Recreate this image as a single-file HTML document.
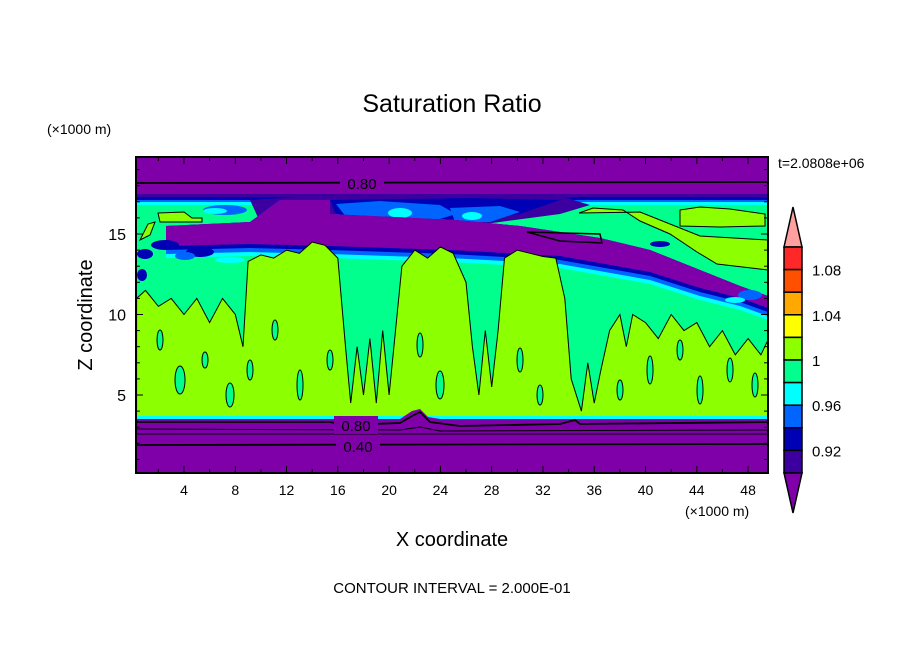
<!DOCTYPE html>
<html><head><meta charset="utf-8"><style>
body{margin:0;background:#fff;width:904px;height:654px;overflow:hidden;font-family:"Liberation Sans",sans-serif}
svg text{font-family:"Liberation Sans",sans-serif;fill:#000}
</style></head><body>
<svg id="chart" width="904" height="654" viewBox="0 0 904 654">
<defs><clipPath id="pc"><rect x="136" y="157" width="632" height="316"/></clipPath></defs>
<text x="452" y="112" font-size="25" text-anchor="middle">Saturation Ratio</text>
<text x="47" y="134" font-size="14">(×1000 m)</text>
<text x="778" y="168" font-size="14">t=2.0808e+06</text>
<text x="92" y="315" font-size="20" text-anchor="middle" transform="rotate(-90 92 315)">Z coordinate</text>
<text x="452" y="546" font-size="20" text-anchor="middle">X coordinate</text>
<text x="685" y="516" font-size="14">(×1000 m)</text>
<text x="452" y="593" font-size="15" text-anchor="middle">CONTOUR INTERVAL = 2.000E-01</text>
<g id="plot" clip-path="url(#pc)"></g>
<g id="axes"></g>
<g id="cbar"></g>
</svg>
<script>
const xTicks=[4,8,12,16,20,24,28,32,36,40,44,48];
const yTicks=[5,10,15];
const limeX=[0.3,1,2,3,4,5,6,7,8,8.6,9,10,11,12,13,14,15,16,16.6,17,17.5,18,18.5,19,19.5,20,20.5,21,22,23,24,25,26,26.5,27,27.5,28,28.5,29,30,31,32,33,33.7,34.2,35,35.5,36,36.5,37.2,38,38.5,39,40,41,42,43,44,45,46,47,48,49,49.6];
const limeTop=[11,11.5,10.5,11,10,11,9.5,11,10,8,13.3,13.7,13.5,14,13.8,14.5,14.3,13.5,8,4.5,8,5,8.5,4.5,9,5,9,13,14,13.5,14.2,13.8,12,8,5,9,5.5,9,13.5,14,13.8,13.6,13.5,11,6,4,7,4.5,6.5,9,10,8,10,9.5,8.5,10,9,9.5,8,9,7.5,8.5,7.5,8.5];
const cbLevels=["","1.08","","1.04","","1","","0.96","","0.92"];
const cbColors=["#ff2828","#ff5000","#ffa800","#ffff00","#8cff00","#00ff8c","#00ffff","#0064ff","#0000b4","#3c00a0"];
const NS="http://www.w3.org/2000/svg";
const X=v=>184+(v-4)*12.82, Y=v=>395-(v-5)*16.1;
function mk(p,t,a){const el=document.createElementNS(NS,t);for(const k in a)el.setAttribute(k,a[k]);p.appendChild(el);return el;}
const plot=document.getElementById('plot'),axes=document.getElementById('axes'),cb=document.getElementById('cbar');
const P="#7f00a8",IND="#3c00a0",DB="#0000b4",BL="#0064ff",CY="#00ffff",GR="#00ff8c",LI="#8cff00";
let e;
e=mk(plot,'rect',{x:136,y:157,width:632,height:316,fill:P});


[[IND,"136,194 768,194 768,215 136,215"],[DB,"136,197 768,197 768,212 136,212"],[BL,"136,200 768,200 768,210 136,210"],[CY,"136,202 768,202 768,208 136,208"]].forEach(a=>{e=mk(plot,'polygon',{points:a[1],fill:a[0]});

});
e=mk(plot,'rect',{x:136,y:205,width:632,height:215,fill:GR});


[[IND,"250,200 320,196 560,196 590,205 560,214 470,226 330,228 260,222"],[DB,"330,200 470,198 560,200 520,214 450,224 340,224"],[BL,"336,204 380,201 440,205 456,214 430,222 350,222"],[BL,"450,208 500,206 520,212 490,222 455,222"]].forEach(a=>{e=mk(plot,'polygon',{points:a[1],fill:a[0]});

});
[[CY,400,213,12,5],[CY,472,216,10,4],[BL,225,210,22,5],[CY,215,211,12,3]].forEach(a=>{e=mk(plot,'ellipse',{cx:a[1],cy:a[2],rx:a[3],ry:a[4],fill:a[0]});

});
const up="166,226 250,222 280,200 330,200 330,214 456,220 520,226 600,238 650,250 700,270 740,286 768,296";
const lo=(d)=>`768,${308+d} 740,${298+d} 700,${288+d} 650,${272+d} 560,${256+d} 450,${250+d} 330,${246+d} 250,${244+d} 166,${246+d}`;
[[CY,12],[BL,8],[DB,4],[P,0]].forEach(a=>{const pp=up+" "+lo(a[1]);e=mk(plot,'polygon',{points:pp,fill:a[0]});

});
mk(plot,'polygon',{points:"527,232 600,234 602,243 560,241",fill:"none",stroke:"#000","stroke-width":1.5});
[[DB,165,245,14,5],[DB,200,252,14,5],[BL,185,256,10,4],[DB,145,254,8,5],[DB,142,275,5,6],[CY,230,260,15,3],[DB,660,244,10,3],[BL,730,246,25,4],[DB,745,247,12,2],[BL,750,295,12,5],[CY,735,300,10,3]].forEach(a=>{e=mk(plot,'ellipse',{cx:a[1],cy:a[2],rx:a[3],ry:a[4],fill:a[0]});

});
["158,213 184,212 192,218 202,218 202,222 160,222","579,213 593,208 623,210 640,221 670,234 697,252 717,264 768,270 768,240 700,236 665,222 640,212","680,210 700,207 730,209 765,214 765,226 720,227 680,226","140,240 148,224 155,222 150,235"].forEach(p=>{e=mk(plot,'polygon',{points:p,fill:LI,stroke:"#000","stroke-width":1});

});
let pts=[X(limeX[0])+","+Y(3.6)];
for(let i=0;i<limeX.length;i++)pts.push(X(limeX[i]).toFixed(1)+","+Y(limeTop[i]).toFixed(1));
pts.push(X(limeX[limeX.length-1])+","+Y(3.6));
e=mk(plot,'polygon',{points:pts.join(' '),fill:LI,stroke:"#000","stroke-width":1});


[[180,380,5,14],[205,360,3,8],[230,395,4,12],[275,330,3,10],[300,385,3,15],[330,360,3,10],[420,345,3,12],[440,385,4,14],[520,360,3,12],[540,395,3,10],[650,370,3,14],[680,350,3,10],[700,390,3,14],[730,370,3,12],[755,385,3,12],[620,390,3,10],[160,340,3,10],[250,370,3,10]].forEach(a=>{e=mk(plot,'ellipse',{cx:a[0],cy:a[1],rx:a[2],ry:a[3],fill:GR,stroke:"#000","stroke-width":1});

});
e=mk(plot,'rect',{x:136,y:416,width:632,height:4,fill:CY});


e=mk(plot,'polygon',{points:"136,419 400,419 412,411 420,409 428,417 440,419 768,419 768,473 136,473",fill:P});


mk(plot,'polyline',{points:"136,422 330,422 345,425 400,423 412,416 420,412 430,422 460,426 560,424 575,420 580,424 768,422",fill:"none",stroke:"#000","stroke-width":1.8});
mk(plot,'polyline',{points:"136,429 400,430 420,427 440,431 768,430",fill:"none",stroke:"#000","stroke-width":1});
mk(plot,'line',{x1:136,y1:434,x2:768,y2:434,stroke:"#000","stroke-width":1});
mk(plot,'line',{x1:136,y1:445,x2:768,y2:444,stroke:"#000","stroke-width":1.8});
mk(plot,'line',{x1:136,y1:183,x2:768,y2:182,stroke:"#000","stroke-width":1.8});
[[362,183,"0.80"],[356,425,"0.80"],[358,446,"0.40"]].forEach(a=>{mk(plot,'rect',{x:a[0]-22,y:a[1]-9,width:44,height:18,fill:P});
e=mk(plot,'text',{x:a[0],y:a[1]+6,"font-size":15,"text-anchor":"middle"});e.textContent=a[2];

});
mk(axes,'rect',{x:136,y:157,width:632,height:316,fill:"none",stroke:"#000","stroke-width":2});
for(let v=2;v<=48;v+=2){const x=X(v),L=v%4==0?7:4;mk(axes,'line',{x1:x,y1:473,x2:x,y2:473-L,stroke:"#000"});mk(axes,'line',{x1:x,y1:157,x2:x,y2:157+L,stroke:"#000"});}
for(let v=1;v<=19;v++){const y=Y(v),L=v%5==0?7:4;mk(axes,'line',{x1:136,y1:y,x2:136+L,y2:y,stroke:"#000"});mk(axes,'line',{x1:768,y1:y,x2:768-L,y2:y,stroke:"#000"});}
xTicks.forEach(v=>{e=mk(axes,'text',{x:X(v),y:495,"font-size":14,"text-anchor":"middle"});e.textContent=v;

});
yTicks.forEach(v=>{e=mk(axes,'text',{x:126,y:Y(v)+6,"font-size":16,"text-anchor":"end"});e.textContent=v;

});
const cbX0=784,cbW=18,cbTop=247,cbH=22.6;
e=mk(cb,'polygon',{points:`${cbX0},${cbTop} ${cbX0+cbW/2},207 ${cbX0+cbW},${cbTop}`,fill:"#ffa0a0",stroke:"#000","stroke-width":1.5});


cbColors.forEach((c,i)=>{e=mk(cb,'rect',{x:cbX0,y:cbTop+i*cbH,width:cbW,height:cbH,fill:c,stroke:"#000","stroke-width":1.5});


if(cbLevels[i]){const t=mk(cb,'text',{x:812,y:cbTop+i*cbH+6,"font-size":15});t.textContent=cbLevels[i];

}});
e=mk(cb,'polygon',{points:`${cbX0},${cbTop+10*cbH} ${cbX0+cbW/2},513 ${cbX0+cbW},${cbTop+10*cbH}`,fill:P,stroke:"#000","stroke-width":1.5});


</script>
</body></html>
